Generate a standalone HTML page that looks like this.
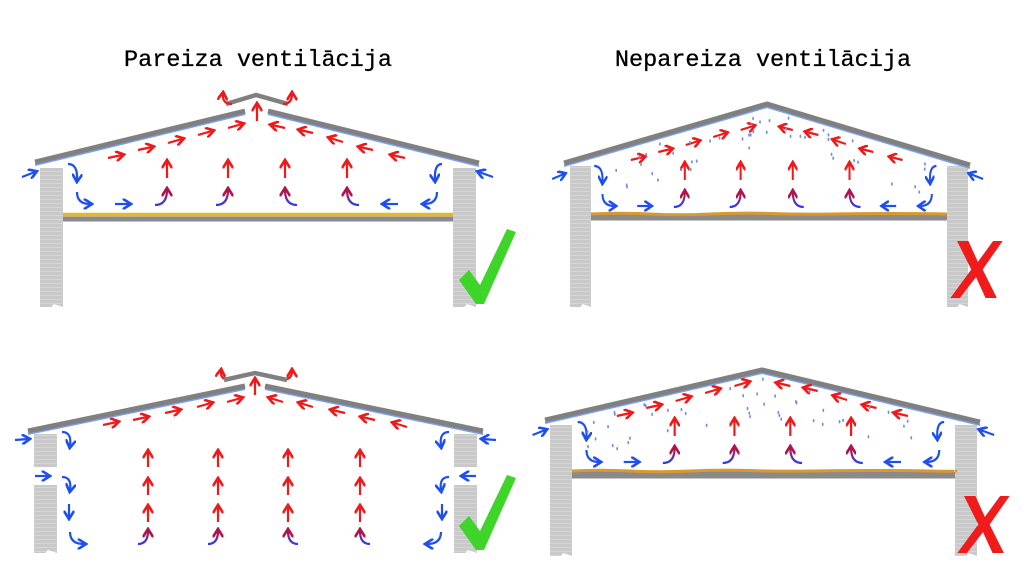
<!DOCTYPE html>
<html><head><meta charset="utf-8"><style>
html,body{margin:0;padding:0;background:#fff;width:1024px;height:576px;overflow:hidden}
svg{display:block}
text{font-family:"Liberation Mono",monospace}
</style></head><body>
<svg id="s" width="1024" height="576" viewBox="0 0 1024 576" xmlns="http://www.w3.org/2000/svg">
<defs>
<marker id="mr" viewBox="0 0 10 10" refX="6" refY="5" markerWidth="4.8" markerHeight="4.8" orient="auto"><path d="M0,0 L8,5 L0,10" fill="none" stroke="#f01818" stroke-width="2.5"/></marker>
<marker id="mb" viewBox="0 0 10 10" refX="6" refY="5" markerWidth="4.8" markerHeight="4.8" orient="auto"><path d="M0,0 L8,5 L0,10" fill="none" stroke="#1e4ef0" stroke-width="2.5"/></marker>
<marker id="mp" viewBox="0 0 10 10" refX="6" refY="5" markerWidth="4.8" markerHeight="4.8" orient="auto"><path d="M0,0 L8,5 L0,10" fill="none" stroke="#b0124a" stroke-width="2.5"/></marker>
<linearGradient id="gp" x1="0" y1="1" x2="0" y2="0"><stop offset="0" stop-color="#2a3ef0"/><stop offset="1" stop-color="#c01040"/></linearGradient>
<pattern id="brick" width="10" height="4" patternUnits="userSpaceOnUse"><rect width="10" height="4" fill="#c9c9c9"/><line x1="0" y1="3.5" x2="10" y2="3.5" stroke="#d8d8d8" stroke-width="0.8"/></pattern>
</defs>
<text x="258" y="66" font-size="23.5" text-anchor="middle" fill="#000" stroke="#000" stroke-width="0.3">Pareiza ventilācija</text>
<text x="763" y="66" font-size="23.5" text-anchor="middle" fill="#000" stroke="#000" stroke-width="0.3">Nepareiza ventilācija</text>
<g id="g"></g>
</svg>
<script>
const NS="http://www.w3.org/2000/svg";
const root=document.getElementById('g');
function el(tag,attrs,parent){const e=document.createElementNS(NS,tag);for(const k in attrs)e.setAttribute(k,attrs[k]);(parent||root).appendChild(e);return e;}
function grp(tr){return el('g',{transform:tr||''});}
const C={r:'#f01818',b:'#1e4ef0'};
function ar(p,x1,y1,x2,y2,c){el('path',{d:`M${x1},${y1} L${x2},${y2}`,stroke:C[c],'stroke-width':2.2,fill:'none','marker-end':`url(#m${c})`},p);}
function cv(p,d,c){el('path',{d:d,stroke:c=='p'?'url(#gp)':C[c],'stroke-width':2.2,fill:'none','marker-end':`url(#m${c})`},p);}
function wall(x,y1,y2,w){el('path',{d:`M${x},${y1} L${x+w},${y1} L${x+w},${y2} L${x+w*0.6},${y2-3} L${x+w*0.5},${y2} L${x},${y2} Z`,fill:'url(#brick)'});}
function line(a,b,c,d,col,w){el('path',{d:`M${a},${b} L${c},${d}`,stroke:col,'stroke-width':w,fill:'none'});}

// ===== Top-left structure
wall(40,168,307,23);wall(453,168,307,23);
line(63,214.5,453,214.5,'#e8b820',3.5);line(63,219,453,219,'#8a8a8a',5);
line(35,165,245,114,'#7aa0f0',2);line(35,162,245,111,'#808080',5);
line(268,114,479,166,'#7aa0f0',2);line(268,111,479,163,'#808080',5);
el('path',{d:'M226,104 L256,95 L288,104',stroke:'#808080','stroke-width':4.5,fill:'none'});

function setA(p){
 [[108,158,122,155],[138,150,152,147],[168,143,182,139],[198,135,212,131],[228,128,242,124]].forEach(a=>ar(p,...a,'r'));
 [[285,128,272,125],[313,133,300,130],[343,142,330,138],[373,150,360,147],[405,158,392,155]].forEach(a=>ar(p,...a,'r'));
 [167,228,285,347].forEach(x=>ar(p,x,178,x,162,'r'));
 cv(p,'M155,205 Q167,205 167,190','p');cv(p,'M216,205 Q228,205 228,190','p');
 cv(p,'M297,205 Q285,205 285,190','p');cv(p,'M359,205 Q347,205 347,190','p');
 ar(p,22,177,35,172,'b');ar(p,493,177,479,172,'b');
 cv(p,'M68,164 Q78,164 77,180','b');cv(p,'M77,192 Q77,204 90,204','b');ar(p,115,204,129,204,'b');
 cv(p,'M442,164 Q434,164 435,180','b');cv(p,'M437,192 Q437,204 424,204','b');ar(p,398,204,384,204,'b');
}
const tl=grp('');setA(tl);
ar(tl,257,121,257,105,'r');
cv(tl,'M232,104 Q222,104 223,94','r');cv(tl,'M283,104 Q292,104 292,94','r');

// ===== Top-right
wall(570,166,307,21);wall(947,166,307,21);
line(591,217.5,947,217.5,'#8a8a8a',6);
el('path',{d:'M591,214 Q620,212.5 650,214 T710,214 T770,213.5 T830,214 T890,213.5 T947,214',stroke:'#d89a30','stroke-width':3,fill:'none'});
line(564,166,767,107,'#7aa0f0',2);line(767,107,970,168,'#7aa0f0',2);
el('path',{d:'M564,163 L767,104 L970,165',stroke:'#808080','stroke-width':5,fill:'none'});
const tr=grp('translate(532,2) scale(0.915,1)');setA(tr);

// ===== Bottom-right
wall(550,425,556,22);wall(955,425,556,22);
line(572,475,955,475,'#8a8a8a',7);
el('path',{d:'M572,471 Q600,469.5 630,471 T690,471 T750,470.5 T810,471 T870,470.5 T930,471 T955,471',stroke:'#d89a30','stroke-width':3,fill:'none'});
line(545,423,762,373,'#7aa0f0',2);line(762,373,980,425,'#7aa0f0',2);
el('path',{d:'M545,420 L762,370 L980,422',stroke:'#808080','stroke-width':5,fill:'none'});
const br=grp('translate(511,258) scale(0.98,1)');setA(br);

function drops(pts){pts.forEach(p=>el('ellipse',{cx:p[0],cy:p[1],rx:0.9,ry:1.7,fill:'#7090e8'}));}
let seed=7;function rnd(){seed=(seed*9301+49297)%233280;return seed/233280;}
function scatter(x0,x1,yTopFn,n){const pts=[];for(let i=0;i<n;i++){const x=x0+rnd()*(x1-x0);const y=yTopFn(x)+6+rnd()*38;pts.push([x,y]);}drops(pts);}
scatter(600,940,x=>105+Math.abs(x-767)*0.29,45);
scatter(585,945,x=>371+Math.abs(x-762)*0.235,45);

// ===== Bottom-left
const bl=grp('');
[[34,434,467],[34,485,553],[454,434,467],[454,485,553]].forEach(w=>{if(w[1]==434)el('rect',{x:w[0],y:w[1],width:23,height:w[2]-w[1],fill:'url(#brick)'});else wall(w[0],w[1],w[2],23);});
line(28,434,245,389,'#7aa0f0',2);line(28,431,245,386,'#808080',5);
line(265,389,483,434,'#7aa0f0',2);line(265,386,483,431,'#808080',5);
el('path',{d:'M224,380 L255,373 L287,380',stroke:'#808080','stroke-width':4.5,fill:'none'});
[[103,425,117,422],[133,420,147,417],[165,413,179,410],[197,407,211,403],[227,402,241,398]].forEach(a=>ar(bl,...a,'r'));
[[283,402,270,398],[313,407,300,403],[345,413,332,410],[375,420,362,417],[407,427,394,423]].forEach(a=>ar(bl,...a,'r'));
ar(bl,255,395,255,380,'r');
cv(bl,'M230,380 Q220,380 221,371','r');cv(bl,'M282,380 Q292,380 292,371','r');
[148,218,288,360].forEach(x=>{[[467,452],[495,480],[522,507]].forEach(y=>ar(bl,x,y[0],x,y[1],'r'));});
cv(bl,'M138,544 Q148,544 148,531','p');cv(bl,'M208,544 Q218,544 218,531','p');
cv(bl,'M298,544 Q288,544 288,531','p');cv(bl,'M370,544 Q360,544 360,531','p');
function blB(p){
 ar(p,15,440,28,439,'b');ar(p,35,476,48,476,'b');
 cv(p,'M62,432 Q72,432 70,446','b');cv(p,'M62,477 Q72,477 70,490','b');
 ar(p,69,504,69,517,'b');cv(p,'M70,532 Q70,544 84,544','b');
}
blB(bl);const blm=grp('translate(511,0) scale(-1,1)');blB(blm);

function check(dy){el('path',{d:`M459,${280+dy} L469,${270+dy} L480,${285+dy} L507,${229+dy} L516,${232+dy} L484,${304+dy} L476,${304+dy} Z`,fill:'#3ed42a'});}
check(0);check(246);
function xm(x,y,s){el('path',{d:`M${x},${y} L${x+12*s},${y} L${x+22*s},${y+22*s} L${x+38*s},${y} L${x+48*s},${y} L${x+27*s},${y+30*s} L${x+42*s},${y+60*s} L${x+30*s},${y+60*s} L${x+20*s},${y+38*s} L${x+3*s},${y+60*s} L${x-7*s},${y+60*s} L${x+15*s},${y+30*s} Z`,fill:'#f01c1c'});}
xm(957,241,0.95);xm(964,496,0.95);
</script>
</body></html>
